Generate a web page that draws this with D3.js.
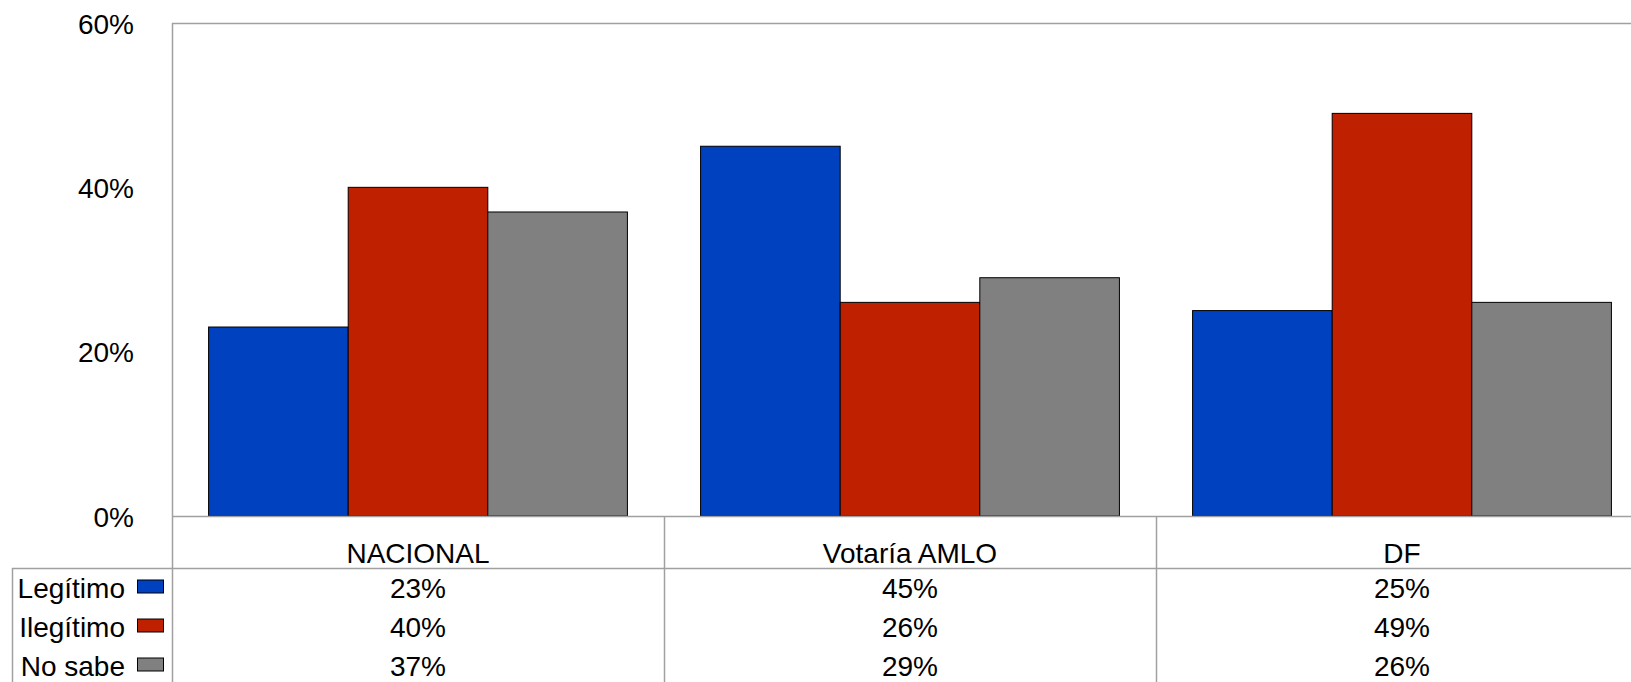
<!DOCTYPE html>
<html lang="es">
<head>
<meta charset="UTF-8">
<title>Legítimo / Ilegítimo</title>
<script src="https://d3js.org/d3.v7.min.js"></script>
<style>
  body { margin: 0; background: #fff; }
  text { font-family: "Liberation Sans", Arial, sans-serif; fill: #000; }
</style>
</head>
<body>
<svg width="1631" height="682"></svg>
<script>
// data
const categories = ["NACIONAL", "Votaría AMLO", "DF"];
const seriesNames = ["Legítimo", "Ilegítimo", "No sabe"];
const legitimo = [23, 45, 25];
const ilegitimo = [40, 26, 49];
const noSabe = [37, 29, 26];
const yTicks = [0, 20, 40, 60];
const colors = ["#0041bf", "#bf2000", "#808080"];

const seriesValues = [legitimo, ilegitimo, noSabe];

const svg = d3.select("svg");
const frame = "#a0a0a0";
const fontSize = 28;

// layout
const plotLeft = 172, plotTop = 23, zeroY = 516;
const catWidth = 492;
const headerBottom = 568;
const rowTop = 588, rowH = 39;

const x = d3.scaleBand()
  .domain(categories)
  .range([plotLeft, plotLeft + catWidth * categories.length])
  .padding(0);

const xInner = d3.scaleBand()
  .domain(seriesNames)
  .range([0, x.bandwidth()])
  .paddingInner(0)
  .paddingOuter(0.262);

const y = d3.scaleLinear()
  .domain([0, 60])
  .range([zeroY, plotTop]);

// top frame line
svg.append("line")
  .attr("x1", plotLeft).attr("x2", 1631)
  .attr("y1", plotTop + 0.5).attr("y2", plotTop + 0.5)
  .attr("stroke", frame).attr("stroke-width", 1.5);

// bars
const groups = svg.selectAll(".cat")
  .data(categories)
  .enter().append("g")
  .attr("class", "cat")
  .attr("transform", d => `translate(${x(d)},0)`);

groups.selectAll("rect")
  .data((d, i) => seriesNames.map((s, j) => ({ s, v: seriesValues[j][i], c: colors[j] })))
  .enter().append("rect")
  .attr("x", d => xInner(d.s))
  .attr("y", d => y(d.v))
  .attr("width", xInner.bandwidth())
  .attr("height", d => zeroY - y(d.v))
  .attr("fill", d => d.c)
  .attr("stroke", "#000")
  .attr("stroke-width", 1);

// y axis labels
const yAxis = d3.axisLeft(y)
  .tickValues(yTicks)
  .tickSize(0)
  .tickPadding(0)
  .tickFormat(d => d + "%");

const yg = svg.append("g")
  .attr("transform", `translate(134,0)`)
  .call(yAxis);
yg.select(".domain").remove();
yg.selectAll("text")
  .attr("font-size", fontSize)
  .attr("font-family", "Liberation Sans, Arial, sans-serif")
  .attr("dy", "0.36em");

// zero line
svg.append("line")
  .attr("x1", plotLeft).attr("x2", 1631)
  .attr("y1", zeroY + 0.5).attr("y2", zeroY + 0.5)
  .attr("stroke", frame).attr("stroke-width", 1.5);

// left plot border
svg.append("line")
  .attr("x1", plotLeft + 0.5).attr("x2", plotLeft + 0.5)
  .attr("y1", plotTop).attr("y2", 682)
  .attr("stroke", frame).attr("stroke-width", 1.5);

// category separators in table
categories.slice(1).forEach(c => {
  svg.append("line")
    .attr("x1", x(c) + 0.5).attr("x2", x(c) + 0.5)
    .attr("y1", zeroY).attr("y2", 682)
    .attr("stroke", frame).attr("stroke-width", 1.5);
});

// table header line and legend box
svg.append("line")
  .attr("x1", 12).attr("x2", 1631)
  .attr("y1", headerBottom + 0.5).attr("y2", headerBottom + 0.5)
  .attr("stroke", frame).attr("stroke-width", 1.5);
svg.append("line")
  .attr("x1", 12.5).attr("x2", 12.5)
  .attr("y1", headerBottom).attr("y2", 682)
  .attr("stroke", frame).attr("stroke-width", 1.5);

// category labels
svg.selectAll(".catLabel")
  .data(categories)
  .enter().append("text")
  .attr("class", "catLabel")
  .attr("x", d => x(d) + x.bandwidth() / 2)
  .attr("y", 553)
  .attr("dy", "0.36em")
  .attr("text-anchor", "middle")
  .attr("font-size", fontSize)
  .text(d => d);

// table rows
seriesNames.forEach((s, j) => {
  const rowY = rowTop + j * rowH;
  svg.append("text")
    .attr("x", 125)
    .attr("y", rowY)
    .attr("dy", "0.36em")
    .attr("text-anchor", "end")
    .attr("font-size", fontSize)
    .text(s);
  svg.append("rect")
    .attr("x", 137.5).attr("y", rowY - 8)
    .attr("width", 26).attr("height", 13)
    .attr("fill", colors[j])
    .attr("stroke", "#000").attr("stroke-width", 1);
  svg.selectAll(".val" + j)
    .data(categories)
    .enter().append("text")
    .attr("x", d => x(d) + x.bandwidth() / 2)
    .attr("y", rowY)
    .attr("dy", "0.36em")
    .attr("text-anchor", "middle")
    .attr("font-size", fontSize)
    .text((d, i) => seriesValues[j][i] + "%");
});
</script>
</body>
</html>
